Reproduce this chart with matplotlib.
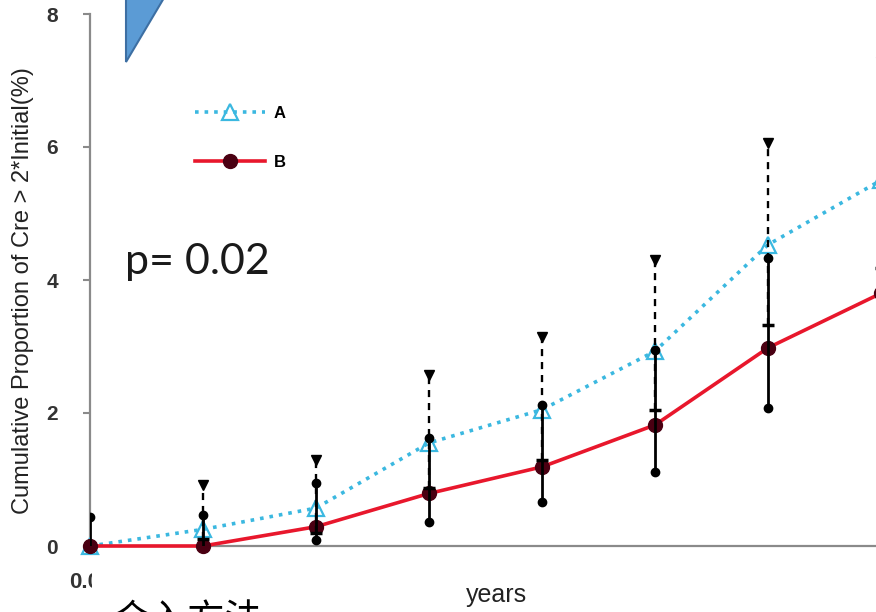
import matplotlib
matplotlib.use("Agg")
import matplotlib.pyplot as plt
import numpy as np
from matplotlib.patches import Polygon, Rectangle
from matplotlib.transforms import ScaledTranslation

# follow-up years
years = [0, 1, 2, 3, 4, 5, 6, 7]

# group A: cumulative proportion (%) with lower / upper limits
a_vals = [0, 0.25, 0.57, 1.55, 2.05, 2.93, 4.53, 5.50]
a_low = [0, 0.10, 0.20, 0.87, 1.30, 2.05, 3.32, 4.18]
a_high = [0, 0.92, 1.29, 2.57, 3.15, 4.30, 6.06, 7.28]

# group B
b_vals = [0, 0, 0.29, 0.79, 1.19, 1.82, 2.98, 3.80]
b_low = [0, 0, 0.09, 0.36, 0.66, 1.11, 2.08, 2.75]
b_high = [0.43, 0.47, 0.94, 1.62, 2.12, 2.95, 4.33, 5.30]

y_ticks = [0, 2, 4, 6, 8]
p_text = "p= 0.02"

W, H = 876, 612
fig = plt.figure(figsize=(W / 100, H / 100), dpi=100)
ax = fig.add_axes([90 / W, 66 / H, 791 / W, 532 / H])

x = np.array(years)
a = np.array(a_vals)
b = np.array(b_vals)
al, ah = np.array(a_low), np.array(a_high)
bl, bh = np.array(b_low), np.array(b_high)

cyan = "#3bb8e0"
red = "#e8172c"

ax.plot(x, a, linestyle=":", color=cyan, lw=2.6, marker="^", ms=11,
        mfc="none", mec=cyan, mew=1.6, label="A", zorder=3, clip_on=False)
ax.plot(x, b, linestyle="-", color=red, lw=2.6, marker="o", ms=10,
        mfc="#4a0012", mec="#4a0012", label="B", zorder=4, clip_on=False)

# error bars: A dashed, B solid
eb = ax.errorbar(x, a, yerr=[a - al, ah - a], fmt="none", ecolor="black",
                 elinewidth=1.7, capsize=0, zorder=5)
eb[2][0].set_linestyle((0, (3, 2.5)))
ax.errorbar(x, b, yerr=[b - bl, bh - b], fmt="none", ecolor="black",
            elinewidth=2.0, capsize=0, zorder=6)

up = ah > a
lo = al < a
ax.plot(x[up], ah[up], "v", color="black", ms=7, ls="none", zorder=7)
ax.plot(x[lo], al[lo], "_", color="black", ms=9, mew=2.5, ls="none", zorder=7)
ax.plot(x[bh > b], bh[bh > b], "o", color="black", ms=6, ls="none", zorder=7)
ax.plot(x[bl < b], bl[bl < b], "o", color="black", ms=6, ls="none", zorder=7)

ax.set_xlim(0, 7)
ax.set_ylim(0, 8)
for s in ["top", "right"]:
    ax.spines[s].set_visible(False)
for s in ["left", "bottom"]:
    ax.spines[s].set_color("#8a8a8a")
    ax.spines[s].set_linewidth(1.6)

ax.set_yticks(y_ticks)
ax.set_yticklabels([str(t) for t in y_ticks], family="Liberation Sans",
                   fontsize=15, fontweight="bold", color="#333333")
ax.tick_params(axis="y", length=5, width=1.5, color="#8a8a8a", pad=18)
ax.set_xticks([0])
ax.set_xticklabels(["0.0"], family="Liberation Sans", fontsize=16,
                   fontweight="bold", color="#333333")
ax.tick_params(axis="x", length=0, pad=19)
for lab in ax.get_xticklabels():
    lab.set_transform(lab.get_transform() + ScaledTranslation(-0.05, 0, fig.dpi_scale_trans))

ax.set_ylabel("Cumulative Proportion of Cre > 2*Initial(%)", family="Liberation Sans",
              fontsize=17, color="#222222")
ax.yaxis.set_label_coords(-0.071, 0.48)
ax.set_xlabel("years", family="Liberation Sans", fontsize=18, color="#222222")
ax.xaxis.set_label_coords((496 - 90) / 791, -(583 - 546) / 532)

ax.text(125 / W, 1 - 262 / H, p_text, transform=fig.transFigure, family="Lato",
        fontsize=31, va="center", ha="left", color="#1a1a1a")

ax.legend(loc="upper left", bbox_to_anchor=(187 / W, 1 - 98 / H),
          bbox_transform=fig.transFigure, frameon=False,
          handlelength=4.2, labelspacing=2.0, borderpad=0, handletextpad=0.5,
          prop={"family": "Liberation Sans", "weight": "bold", "size": 12})

# blue callout corner at the top
tri = Polygon([[126 / W, 1.02], [126 / W, 1 - 62 / H], [170 / W, 1.02]],
              closed=True, transform=fig.transFigure, facecolor="#5b9bd5",
              edgecolor="#3d6fa3", lw=1.5, zorder=10, clip_on=False)
fig.add_artist(tri)

# white caption box at the bottom, partly cut off
box = Rectangle((92 / W, 0), 210 / W, 54 / H, transform=fig.transFigure,
                facecolor="white", edgecolor="none", zorder=10)
fig.add_artist(box)
fig.text(112 / W, 10 / H, "合入方法", family=["Noto Sans CJK SC", "DejaVu Sans"],
         fontsize=27, va="top", ha="left", color="black", zorder=11)

fig.savefig("out.png", dpi=100)
